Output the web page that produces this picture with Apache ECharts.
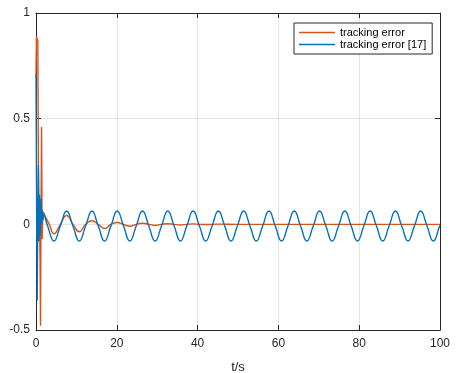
<!DOCTYPE html>
<html>
<head>
<meta charset="utf-8">
<script src="https://cdn.jsdelivr.net/npm/echarts@6/dist/echarts.min.js"></script>
<style>html,body{margin:0;padding:0;background:#fff}#c{width:461px;height:373px}</style>
</head>
<body>
<div id="c"></div>
<script>
// ---- data ----
const xTicks = [0, 20, 40, 60, 80, 100];
const yTicks = [-0.5, 0, 0.5, 1];
const seriesNames = ['tracking error', 'tracking error [17]'];

// orange: initial transient (t, value)
const tOrangeStart = [0, 0.1, 0.2, 0.45, 0.6, 0.72, 0.85, 1.0, 1.12, 1.25, 1.38, 1.52, 1.65, 1.8, 2.2];
const yOrangeStart = [0.70, 0.89, 0.88, 0.87, 0.25, -0.06, 0.04, -0.15, -0.48, 0.05, 0.46, -0.07, 0.02, 0.06, 0.04];
// orange: decaying oscillation
const tOrangeTail = [2.2, 3.3, 4.45, 6.02, 7.58, 9.15, 10.71, 12.28, 13.84, 15.41, 16.97, 18.54, 20.10, 21.67, 23.23, 24.80, 26.36, 27.93, 29.49, 31.06, 32.62, 34.19, 35.75, 37.32, 38.88, 40.45, 42.01, 45, 50, 60, 70, 80, 90, 100];
const yOrangeTail = [0.04, 0.0, -0.045, 0.0, 0.042, 0.0, -0.035, 0.0, 0.017, 0.0, -0.02, 0.0, 0.009, 0.0, -0.009, 0.0, 0.005, 0.0, -0.005, 0.0, 0.003, 0.0, -0.003, 0.0, 0.002, 0.0, -0.001, 0.001, 0.0, 0.0, 0.0, 0.0, 0.0, 0.0];

// blue: initial transient
const tBlueStart = [0, 0.12, 0.3, 0.45, 0.6, 0.75, 0.9, 1.05, 1.2, 1.35, 1.5, 1.7, 1.9, 2.2];
const yBlueStart = [0.71, 0.2, -0.36, 0.05, 0.28, -0.08, 0.14, -0.05, 0.12, 0.0, 0.07, 0.02, 0.05, 0.037];
// blue: steady oscillation
const tBlueTail = [2.2, 2.89,
  4.45, 6.02, 7.58, 9.15,
  10.71, 12.28, 13.84, 15.41,
  16.97, 18.54, 20.10, 21.67,
  23.23, 24.80, 26.36, 27.93,
  29.49, 31.06, 32.62, 34.19,
  35.75, 37.32, 38.88, 40.45,
  42.01, 43.58, 45.14, 46.71,
  48.27, 49.84, 51.40, 52.97,
  54.53, 56.10, 57.66, 59.23,
  60.79, 62.36, 63.92, 65.49,
  67.05, 68.62, 70.18, 71.75,
  73.31, 74.88, 76.44, 78.01,
  79.57, 81.14, 82.70, 84.27,
  85.83, 87.40, 88.96, 90.53,
  92.09, 93.66, 95.22, 96.79,
  98.35, 99.92, 100];
const yBlueTail = [0.037, -0.008,
  -0.079, -0.008, 0.063, -0.008,
  -0.079, -0.008, 0.063, -0.008,
  -0.079, -0.008, 0.063, -0.008,
  -0.079, -0.008, 0.063, -0.008,
  -0.079, -0.008, 0.063, -0.008,
  -0.079, -0.008, 0.063, -0.008,
  -0.079, -0.008, 0.063, -0.008,
  -0.079, -0.008, 0.063, -0.008,
  -0.079, -0.008, 0.063, -0.008,
  -0.079, -0.008, 0.063, -0.008,
  -0.079, -0.008, 0.063, -0.008,
  -0.079, -0.008, 0.063, -0.008,
  -0.079, -0.008, 0.063, -0.008,
  -0.079, -0.008, 0.063, -0.008,
  -0.079, -0.008, 0.063, -0.008,
  -0.079, -0.008, -0.005];

const zip = (a, b) => a.map((v, i) => [v, b[i]]);
const ORANGE = '#D95319', BLUE = '#0072BD', AX = '#262626';
const font = 'Arial, "Liberation Sans", Helvetica, sans-serif';
// thin horizontal bar icon (corner moveTo points keep the 36x10 box so the bar stays thin)
const LINE_ICON = 'path://M0,0M36,10M0,4.3L36,4.3L36,5.7L0,5.7Z';

const chart = echarts.init(document.getElementById('c'), null, {renderer: 'canvas'});
const baseX = {
  type: 'value', min: xTicks[0], max: xTicks[xTicks.length - 1], interval: 20,
  axisLine: {show: true, onZero: false, lineStyle: {color: AX, width: 1}},
  axisTick: {show: true, inside: true, length: 5, lineStyle: {color: AX}},
};
const baseY = {
  type: 'value', min: yTicks[0], max: yTicks[yTicks.length - 1], interval: 0.5,
  axisLine: {show: true, onZero: false, lineStyle: {color: AX, width: 1}},
  axisTick: {show: true, inside: true, length: 5, lineStyle: {color: AX}},
};
chart.setOption({
  animation: false,
  backgroundColor: '#fff',
  textStyle: {fontFamily: font},
  grid: {left: 36, right: 21, top: 13, bottom: 43, containLabel: false, outerBoundsMode: 'none'},
  legend: {
    data: seriesNames.map(n => ({name: n, icon: LINE_ICON})),
    orient: 'vertical', left: 294, top: 23,
    itemWidth: 36, itemHeight: 10, itemGap: 1,
    padding: [4, 6, 4, 5],
    backgroundColor: '#fff', borderColor: AX, borderWidth: 1,
    textStyle: {fontSize: 11, color: '#000', fontFamily: font}
  },
  xAxis: [
    Object.assign({}, baseX, {
      position: 'bottom',
      name: 't/s', nameLocation: 'middle', nameGap: 31,
      nameTextStyle: {fontSize: 13, color: AX, fontFamily: font},
      axisLabel: {fontSize: 12, color: AX, margin: 8, fontFamily: font},
      splitLine: {show: true, lineStyle: {color: '#e3e3e3', width: 1}}
    }),
    Object.assign({}, baseX, {position: 'top', axisLabel: {show: false}, splitLine: {show: false}})
  ],
  yAxis: [
    Object.assign({}, baseY, {
      position: 'left',
      axisLabel: {fontSize: 12, color: AX, margin: 6, fontFamily: font, formatter: v => String(v)},
      splitLine: {show: true, lineStyle: {color: '#e3e3e3', width: 1}}
    }),
    Object.assign({}, baseY, {position: 'right', axisLabel: {show: false}, splitLine: {show: false}})
  ],
  series: [
    {name: seriesNames[0], type: 'line', symbol: 'none', smooth: false, data: zip(tOrangeStart, yOrangeStart),
     lineStyle: {color: ORANGE, width: 1.4}, itemStyle: {color: ORANGE}, z: 2},
    {name: seriesNames[0], type: 'line', symbol: 'none', smooth: 0.5, data: zip(tOrangeTail, yOrangeTail),
     lineStyle: {color: ORANGE, width: 1.4}, itemStyle: {color: ORANGE}, z: 2},
    {name: seriesNames[1], type: 'line', symbol: 'none', smooth: false, data: zip(tBlueStart, yBlueStart),
     lineStyle: {color: BLUE, width: 1.4}, itemStyle: {color: BLUE}, z: 3},
    {name: seriesNames[1], type: 'line', symbol: 'none', smooth: 0.5, data: zip(tBlueTail, yBlueTail),
     lineStyle: {color: BLUE, width: 1.4}, itemStyle: {color: BLUE}, z: 3}
  ]
});
</script>
</body>
</html>
